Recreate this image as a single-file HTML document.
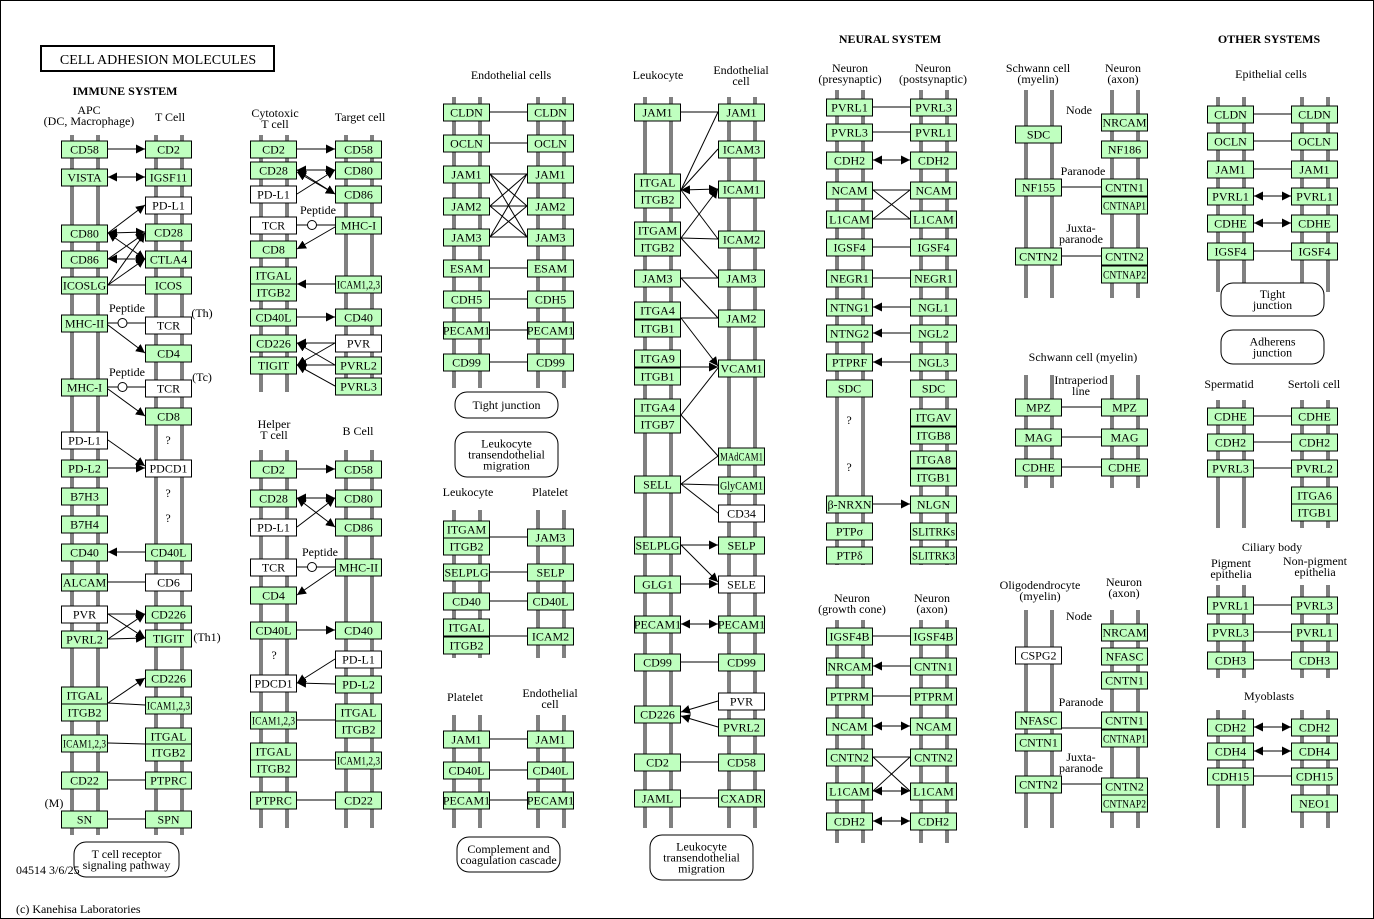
<!DOCTYPE html>
<html><head><meta charset="utf-8">
<style>
html,body{margin:0;padding:0;background:#fff;}
svg{display:block;font-family:"Liberation Serif",serif;}
</style></head>
<body>
<svg id="s" width="1374" height="919" viewBox="0 0 1374 919" xmlns="http://www.w3.org/2000/svg">
<defs>
<marker id="ar" viewBox="0 0 10 10" refX="10" refY="5" markerWidth="9" markerHeight="9" markerUnits="userSpaceOnUse" orient="auto-start-reverse"><path d="M0,0L10,5L0,10z" fill="#000"/></marker>
</defs>
<rect x="0.5" y="0.5" width="1373" height="918" fill="#fff" stroke="#000"/>
<g id="bars"></g><g id="lines"></g><g id="boxes"></g><g id="labels"></g><g id="foot"></g>
</svg>
<script>
var NS="http://www.w3.org/2000/svg";
function el(p,t,a,txt){var e=document.createElementNS(NS,t);for(var k in a)e.setAttribute(k,a[k]);if(txt!==undefined)e.textContent=txt;document.getElementById(p).appendChild(e);return e;}
function col(x,y1,y2){el("bars","rect",{x:x+9,y:y1,width:4,height:y2-y1,fill:"#808080"});el("bars","rect",{x:x+35,y:y1,width:4,height:y2-y1,fill:"#808080"});}
function B(x,cy,t,w){el("boxes","rect",{x:x+0.5,y:cy-8,width:46,height:17,fill:w?"#fff":"#bfffbf",stroke:"#000"});
 var a={x:x+23.5,y:cy+4.5,"text-anchor":"middle","font-size":12};
 if(t.length>6){a.textLength=43;a.lengthAdjust="spacingAndGlyphs";}
 el("boxes","text",a,t);}
function L(x1,y1,x2,y2,k){var a={x1:x1,y1:y1,x2:x2,y2:y2,stroke:"#000","stroke-width":1};
 if(k=="a"||k=="b")a["marker-end"]="url(#ar)";if(k=="s"||k=="b")a["marker-start"]="url(#ar)";el("lines","line",a);}
function H(xl,cy,xr,k,cy2){L(xl+47,cy,xr,cy2===undefined?cy:cy2,k);}
function T(x,y,t,o){o=o||{};var a={x:x,y:y,"text-anchor":o.anchor||"middle","font-size":o.size||12};if(o.bold)a["font-weight"]="bold";el(o.g||"labels","text",a,t);}
function T2(x,y,a,b){T(x,y,a);T(x,y+11,b);}
function RB(x,y,w,h,lines){el("labels","rect",{x:x,y:y,width:w,height:h,rx:12,fill:"#fff",stroke:"#000"});var n=lines.length,y0=y+h/2-(n-1)*5.5+4;lines.forEach(function(l,i){T(x+w/2,y0+i*11,l);});}
function pep(x1,x2,cy,lx,ly){L(x1,cy,x2,cy);el("lines","circle",{cx:(x1+x2)/2-4,cy:cy,r:4.5,fill:"#fff",stroke:"#000"});T(lx,ly,"Peptide");}

el("labels","rect",{x:41,y:46,width:233,height:25,fill:"#fff",stroke:"#000","stroke-width":2});
T(158,64,"CELL ADHESION  MOLECULES",{size:14});
T(125,95,"IMMUNE SYSTEM",{bold:1});
T(890,43,"NEURAL SYSTEM",{bold:1});
T(1269,43,"OTHER SYSTEMS",{bold:1});
T(16,874,"04514 3/6/25",{anchor:"start",g:"foot"});T(16,913,"(c) Kanehisa Laboratories",{anchor:"start",g:"foot"});

var A=61,Tc=145;col(A,135,835);col(Tc,135,835);
T2(89,114,"APC","(DC, Macrophage)");T(170,121,"T Cell");
[["CD58",149],["VISTA",177],["CD80",233],["CD86",259],["ICOSLG",285],["MHC-II",323],["MHC-I",387],["PD-L1",440,1],["PD-L2",468],["B7H3",496],["B7H4",524],["CD40",552],["ALCAM",582],["PVR",614,1],["PVRL2",639],["ITGAL",695],["ITGB2",712],["ICAM1,2,3",743],["CD22",780],["SN",819]].forEach(function(b){B(A,b[1],b[0],b[2]);});
[["CD2",149],["IGSF11",177],["PD-L1",205,1],["CD28",232],["CTLA4",259],["ICOS",285],["TCR",325,1],["CD4",353],["TCR",388,1],["CD8",416],["PDCD1",468,1],["CD40L",552],["CD6",582,1],["CD226",614],["TIGIT",638],["CD226",678],["ICAM1,2,3",705],["ITGAL",736],["ITGB2",752],["PTPRC",780],["SPN",819]].forEach(function(b){B(Tc,b[1],b[0],b[2]);});
T(168,444,"?");T(168,497,"?");T(168,522,"?");
T(202,317,"(Th)");T(202,381,"(Tc)");T(207,641,"(Th1)");T(54,807,"(M)");
H(A,149,Tc,"a");H(A,177,Tc,"b");
L(108,233,145,205,"a");L(108,233,145,232,"b");L(108,233,145,259,"b");
L(108,259,145,233,"a");L(108,259,145,259,"b");
L(108,285,145,233,"a");L(108,285,145,259,"a");H(A,285,Tc,"n");
pep(108,145,323,127,312);L(108,325,145,353,"a");
pep(108,145,387,127,376);L(108,389,145,416,"a");
L(108,440,145,466,"a");H(A,468,Tc,"a");
L(108,552,145,552,"s");H(A,582,Tc,"n");
L(108,614,145,614,"a");L(108,614,145,638,"a");L(108,639,145,614,"a");L(108,639,145,638,"a");
L(108,703,145,678,"a");L(108,703,145,705);L(108,743,145,744);
H(A,780,Tc);H(A,819,Tc);
RB(74,842,105,35,["T cell receptor","signaling pathway"]);

var C=250,Tg=335;col(C,135,392);col(Tg,135,392);
T2(275,117,"Cytotoxic","T cell");T(360,121,"Target cell");
[["CD2",149],["CD28",170],["PD-L1",194,1],["TCR",225,1],["CD8",249],["ITGAL",275],["ITGB2",292],["CD40L",317],["CD226",343],["TIGIT",365]].forEach(function(b){B(C,b[1],b[0],b[2]);});
[["CD58",149],["CD80",170],["CD86",194],["MHC-I",225],["ICAM1,2,3",284],["CD40",317],["PVR",343,1],["PVRL2",365],["PVRL3",386]].forEach(function(b){B(Tg,b[1],b[0],b[2]);});
H(C,149,Tg,"a");L(297,170,335,170,"b");L(297,170,335,194,"b");L(297,194,335,170,"a");L(297,172,335,194,"b");
pep(297,335,225,318,214);L(335,227,297,249,"a");
L(297,284,335,284,"s");L(297,317,335,317,"a");
L(297,343,335,343,"s");L(297,365,335,343,"s");L(297,343,335,365,"s");L(297,365,335,365,"s");L(297,365,335,386,"s");

col(C,450,828);col(Tg,450,828);
T2(274,428,"Helper","T cell");T(358,435,"B Cell");
[["CD2",469],["CD28",498],["PD-L1",527,1],["TCR",567,1],["CD4",595],["CD40L",630],["PDCD1",683,1],["ICAM1,2,3",720],["ITGAL",751],["ITGB2",768],["PTPRC",800]].forEach(function(b){B(C,b[1],b[0],b[2]);});
[["CD58",469],["CD80",498],["CD86",527],["MHC-II",567],["CD40",630],["PD-L1",659,1],["PD-L2",684],["ITGAL",712],["ITGB2",729],["ICAM1,2,3",760],["CD22",800]].forEach(function(b){B(Tg,b[1],b[0],b[2]);});
T(274,659,"?");
H(C,469,Tg,"a");L(297,498,335,498,"b");L(297,498,335,527,"b");L(297,527,335,498,"a");
pep(297,335,567,320,556);L(335,569,297,595,"a");
L(297,630,335,630,"a");L(335,659,297,683,"a");L(335,684,297,683,"a");
L(297,720,335,720);L(297,760,335,760);H(C,800,Tg);

var E1=443,E2=527;col(E1,97,388);col(E2,97,388);
T(511,79,"Endothelial cells");
["CLDN","OCLN","JAM1","JAM2","JAM3","ESAM","CDH5","PECAM1","CD99"].forEach(function(t,i){var y=[112,143,174,206,237,268,299,330,362][i];B(E1,y,t);B(E2,y,t);H(E1,y,E2);});
[174,206,237].forEach(function(a){[174,206,237].forEach(function(b){if(a!=b)L(490,a,527,b);});});
RB(455,392,103,26,["Tight junction"]);
RB(455,432,103,45,["Leukocyte","transendothelial","migration"]);
col(E1,510,658);col(E2,510,658);T(468,496,"Leukocyte");T(550,496,"Platelet");
[["ITGAM",529],["ITGB2",546],["SELPLG",572],["CD40",601],["ITGAL",627],["ITGB2",645]].forEach(function(b){B(E1,b[1],b[0]);});
[["JAM3",537],["SELP",572],["CD40L",601],["ICAM2",636]].forEach(function(b){B(E2,b[1],b[0]);});
H(E1,537,E2);H(E1,572,E2);H(E1,601,E2);H(E1,636,E2);
col(E1,715,828);col(E2,715,828);T(465,701,"Platelet");T2(550,697,"Endothelial","cell");
[["JAM1",739],["CD40L",770],["PECAM1",800]].forEach(function(b){B(E1,b[1],b[0]);B(E2,b[1],b[0]);H(E1,b[1],E2);});
RB(457,837,103,35,["Complement and","coagulation cascade"]);

var K1=634,K2=718;col(K1,97,828);col(K2,97,828);
T(658,79,"Leukocyte");T2(741,74,"Endothelial","cell");
[["JAM1",112],["ITGAL",182],["ITGB2",199],["ITGAM",230],["ITGB2",247],["JAM3",278],["ITGA4",310],["ITGB1",328],["ITGA9",358],["ITGB1",376],["ITGA4",407],["ITGB7",424],["SELL",484],["SELPLG",545],["GLG1",584],["PECAM1",624],["CD99",662],["CD226",714],["CD2",762],["JAML",798]].forEach(function(b){B(K1,b[1],b[0]);});
[["JAM1",112],["ICAM3",149],["ICAM1",189],["ICAM2",239],["JAM3",278],["JAM2",318],["VCAM1",368],["MAdCAM1",456],["GlyCAM1",485],["CD34",513,1],["SELP",545],["SELE",584,1],["PECAM1",624],["CD99",662],["PVR",701,1],["PVRL2",727],["CD58",762],["CXADR",798]].forEach(function(b){B(K2,b[1],b[0],b[2]);});
var r=681,l=718;
L(r,112,l,112);L(r,190,l,112);L(r,190,l,149);L(r,190,l,189,"b");L(r,190,l,239);L(r,238,l,189,"a");L(r,238,l,239);L(r,238,l,278);
L(r,278,l,278);L(r,278,l,318);L(r,318,l,318);L(r,318,l,366,"a");L(r,367,l,367,"a");L(r,415,l,368);L(r,415,l,456);
L(r,484,l,456);L(r,484,l,485);L(r,484,l,513);L(r,545,l,545,"a");L(r,545,l,582,"a");L(r,584,l,584,"a");
L(r,624,l,624,"b");L(r,662,l,662);L(l,701,r,712,"a");L(l,727,r,716,"a");L(r,762,l,762);L(r,798,l,798);
RB(650,835,103,45,["Leukocyte","transendothelial","migration"]);

var N1=826,N2=910;col(N1,90,565);col(N2,90,565);
T2(850,72,"Neuron","(presynaptic)");T2(933,72,"Neuron","(postsynaptic)");
[["PVRL1",107],["PVRL3",132],["CDH2",160],["NCAM",190],["L1CAM",219],["IGSF4",247],["NEGR1",278],["NTNG1",307],["NTNG2",333],["PTPRF",362],["SDC",388],["β-NRXN",504],["PTPσ",531],["PTPδ",555]].forEach(function(b){B(N1,b[1],b[0]);});
[["PVRL3",107],["PVRL1",132],["CDH2",160],["NCAM",190],["L1CAM",219],["IGSF4",247],["NEGR1",278],["NGL1",307],["NGL2",333],["NGL3",362],["SDC",388],["ITGAV",417],["ITGB8",435],["ITGA8",459],["ITGB1",477],["NLGN",504],["SLITRKs",531],["SLITRK3",555]].forEach(function(b){B(N2,b[1],b[0]);});
T(849,424,"?");T(849,471,"?");
H(N1,107,N2);H(N1,132,N2);H(N1,160,N2,"b");H(N1,190,N2);L(873,190,910,219);L(873,219,910,190);H(N1,219,N2);H(N1,247,N2);H(N1,278,N2);
L(873,307,910,307,"s");L(873,333,910,333,"s");L(873,362,910,362,"s");H(N1,504,N2,"a");
col(N1,620,843);col(N2,620,843);
T2(852,602,"Neuron","(growth cone)");T2(932,602,"Neuron","(axon)");
[["IGSF4B",636],["NRCAM",666],["PTPRM",696],["NCAM",726],["CNTN2",757],["L1CAM",791],["CDH2",821]].forEach(function(b){B(N1,b[1],b[0]);});
[["IGSF4B",636],["CNTN1",666],["PTPRM",696],["NCAM",726],["CNTN2",757],["L1CAM",791],["CDH2",821]].forEach(function(b){B(N2,b[1],b[0]);});
H(N1,636,N2);L(873,666,910,666,"s");H(N1,696,N2);H(N1,726,N2,"b");H(N1,757,N2);L(873,757,910,791);L(873,791,910,757);L(873,791,910,791,"b");H(N1,821,N2,"b");

var S1=1015,S2=1101;col(S1,90,298);col(S2,90,298);
T2(1038,72,"Schwann cell","(myelin)");T2(1123,72,"Neuron","(axon)");
B(S1,134,"SDC");B(S1,187,"NF155");B(S1,256,"CNTN2");
[["NRCAM",122],["NF186",149],["CNTN1",187],["CNTNAP1",205],["CNTN2",256],["CNTNAP2",274]].forEach(function(b){B(S2,b[1],b[0]);});
T(1079,114,"Node");T(1083,175,"Paranode");T2(1081,232,"Juxta-","paranode");
H(S1,187,S2);H(S1,256,S2);
col(S1,375,488);col(S2,375,488);T(1083,361,"Schwann cell (myelin)");T2(1081,384,"Intraperiod","line");
["MPZ","MAG","CDHE"].forEach(function(t,i){var y=[407,437,467][i];B(S1,y,t);B(S2,y,t);H(S1,y,S2);});
col(S1,610,828);col(S2,610,828);T2(1040,589,"Oligodendrocyte","(myelin)");T2(1124,586,"Neuron","(axon)");
B(S1,655,"CSPG2",1);B(S1,720,"NFASC");B(S1,742,"CNTN1");B(S1,784,"CNTN2");
[["NRCAM",632],["NFASC",656],["CNTN1",680],["CNTN1",720],["CNTNAP1",738],["CNTN2",786],["CNTNAP2",803]].forEach(function(b){B(S2,b[1],b[0]);});
T(1079,620,"Node");T(1081,706,"Paranode");T2(1081,761,"Juxta-","paranode");
H(S1,728,S2);H(S1,784,S2);

var O1=1207,O2=1291;col(O1,97,292);col(O2,97,292);
T(1271,78,"Epithelial cells");
[["CLDN",114,"n"],["OCLN",141,"n"],["JAM1",169,"n"],["PVRL1",196,"b"],["CDHE",223,"b"],["IGSF4",251,"n"]].forEach(function(b){B(O1,b[1],b[0]);B(O2,b[1],b[0]);H(O1,b[1],O2,b[2]);});
RB(1221,283,103,33,["Tight","junction"]);RB(1221,330,103,34,["Adherens","junction"]);
col(O1,400,528);col(O2,400,528);T(1229,388,"Spermatid");T(1314,388,"Sertoli cell");
[["CDHE",416],["CDH2",442],["PVRL3",468]].forEach(function(b){B(O1,b[1],b[0]);});
[["CDHE",416],["CDH2",442],["PVRL2",468],["ITGA6",495],["ITGB1",512]].forEach(function(b){B(O2,b[1],b[0]);});
H(O1,416,O2);H(O1,442,O2);H(O1,468,O2);
T(1272,551,"Ciliary body");
col(O1,585,678);col(O2,585,678);T2(1231,567,"Pigment","epithelia");T2(1315,565,"Non-pigment","epithelia");
[["PVRL1","PVRL3",605],["PVRL3","PVRL1",632],["CDH3","CDH3",660]].forEach(function(b){B(O1,b[2],b[0]);B(O2,b[2],b[1]);H(O1,b[2],O2);});
col(O1,710,828);col(O2,710,828);T(1269,700,"Myoblasts");
[["CDH2",727,"b"],["CDH4",751,"b"],["CDH15",776,"n"]].forEach(function(b){B(O1,b[1],b[0]);B(O2,b[1],b[0]);H(O1,b[1],O2,b[2]);});
B(O2,803,"NEO1");
</script>
</body></html>
